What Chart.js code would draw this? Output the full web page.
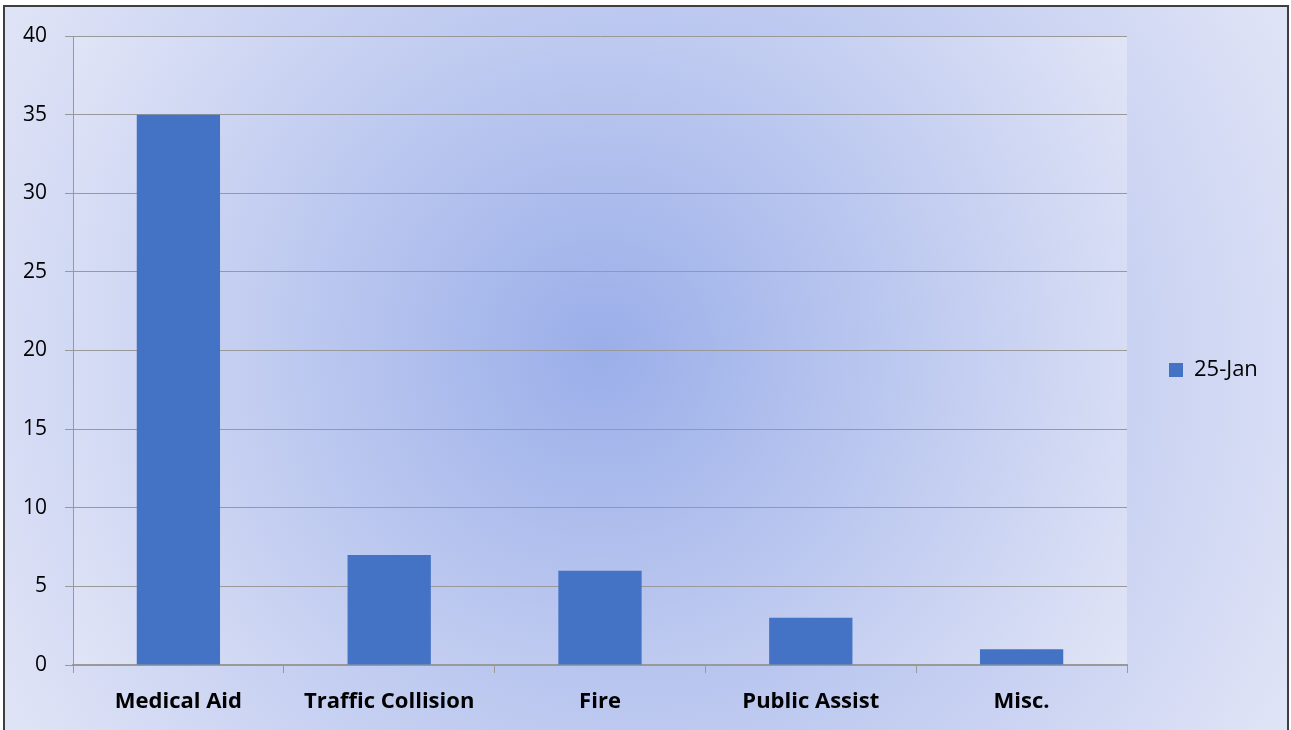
<!DOCTYPE html>
<html>
<head>
<meta charset="utf-8">
<script src="https://cdn.jsdelivr.net/npm/chart.js@4/dist/chart.umd.min.js"></script>
<style>
  body { margin: 0; background: #fff; }
  #wrap { position: relative; width: 1291px; height: 730px; }
</style>
</head>
<body>
<div id="wrap"><canvas id="myChart" width="1291" height="730"></canvas></div>
<script>
'use strict';

const categories = ['Medical Aid', 'Traffic Collision', 'Fire', 'Public Assist', 'Misc.'];
const seriesName = '25-Jan';
const seriesValues = [35, 7, 6, 3, 1];
const yTicks = [0, 5, 10, 15, 20, 25, 30, 35, 40];

const fontFamily = '"Open Sans", Lato, sans-serif';

// background: outer frame + plot area, both soft radial gradients
const backgroundPlugin = {
  id: 'backgroundPlugin',
  beforeDraw(chart) {
    const ctx = chart.ctx;
    const w = chart.width, h = chart.height;
    ctx.save();
    ctx.fillStyle = '#ffffff';
    ctx.fillRect(0, 0, w, h);

    let g = ctx.createRadialGradient(645, 365, 0, 645, 365, 720);
    g.addColorStop(0, '#9aaee9');
    g.addColorStop(1, '#dfe3f6');
    ctx.fillStyle = g;
    ctx.fillRect(5, 7, 1282, h);

    const a = chart.chartArea;
    const cx = (a.left + a.right) / 2, cy = (a.top + a.bottom) / 2;
    g = ctx.createRadialGradient(cx, cy, 0, cx, cy, 610);
    g.addColorStop(0, '#9aaee9');
    g.addColorStop(1, '#e0e4f6');
    ctx.fillStyle = g;
    ctx.fillRect(a.left, a.top, a.right - a.left, a.bottom - a.top);

    ctx.strokeStyle = '#3f3f3f';
    ctx.lineWidth = 2;
    ctx.strokeRect(4, 6, 1284, h + 10);
    ctx.restore();
  }
};

// fix the legend width so the plot ends where the reference does,
// and nudge it up a little
const legendWidthPlugin = {
  id: 'legendWidthPlugin',
  beforeInit(chart) {
    const origFit = chart.legend.fit;
    chart.legend.fit = function () {
      origFit.bind(chart.legend)();
      this.width = 164;
    };
  },
  afterLayout(chart) {
    chart.legend.top -= 10;
    chart.legend.bottom -= 10;
  }
};

const data = {
  labels: categories,
  datasets: [{
    label: seriesName,
    data: seriesValues,
    backgroundColor: '#4472c4',
    borderWidth: 0,
    barPercentage: 0.395,
    categoryPercentage: 1
  }]
};

const config = {
  type: 'bar',
  data: data,
  options: {
    responsive: false,
    animation: false,
    layout: { padding: { top: 36, left: 5, bottom: 6, right: 0 } },
    plugins: {
      legend: {
        position: 'right',
        labels: {
          boxWidth: 14,
          boxHeight: 14,
          padding: 42,
          color: '#000',
          font: { family: fontFamily, size: 22 }
        }
      },
      tooltip: { enabled: false }
    },
    scales: {
      x: {
        grid: {
          display: true,
          drawOnChartArea: false,
          drawTicks: true,
          tickLength: 8,
          color: '#999999'
        },
        border: { color: '#999999', width: 2 },
        ticks: {
          color: '#000',
          padding: 16,
          font: { family: fontFamily, size: 22, weight: 'bold' }
        },
        afterFit(scale) { scale.height = 59; }
      },
      y: {
        min: 0,
        max: 40,
        afterBuildTicks(scale) { scale.ticks = yTicks.map(v => ({ value: v })); },
        grid: {
          color: '#999999',
          tickLength: 8
        },
        border: { color: '#999999', width: 1 },
        ticks: {
          color: '#000',
          padding: 18,
          font: { family: fontFamily, size: 21 }
        },
        afterFit(scale) { scale.width = 68; }
      }
    }
  },
  plugins: [backgroundPlugin, legendWidthPlugin]
};

let canvasChart = document.getElementById('myChart');
const myChart = new Chart(canvasChart, config);
</script>
</body>
</html>
